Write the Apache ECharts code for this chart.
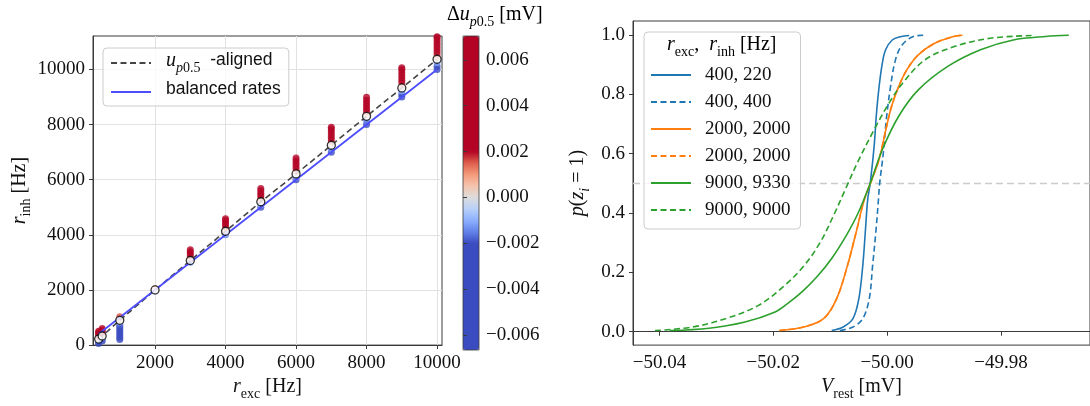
<!DOCTYPE html>
<html>
<head>
<meta charset="utf-8">
<script src="https://cdn.jsdelivr.net/npm/echarts@6/dist/echarts.min.js"></script>
<style>
  html, body { margin: 0; padding: 0; background: #fff; }
  #chart { width: 1090px; height: 406px; }
</style>
</head>
<body>
<div id="chart"></div>
<script>
// ---------- left panel: r_inh vs r_exc, coloured by shift of u_p0.5 ----------
const rExcCols = [400, 500, 1000, 2000, 3000, 4000, 5000, 6000, 7000, 8000, 9000, 10000];
const rInhCols = [
  [60, 120, 180, 220, 280, 340, 400, 460, 500],
  [150, 220, 280, 330, 400, 470, 540, 600],
  [200, 280, 360, 440, 520, 600, 680, 760, 840, 900, 960, 1030],
  [1950, 2000, 2050],
  [3000, 3070, 3150, 3230, 3310, 3390, 3460],
  [4000, 4060, 4130, 4200, 4280, 4360, 4440, 4520, 4580],
  [5000, 5100, 5200, 5270, 5350, 5430, 5510, 5600, 5680],
  [6000, 6100, 6210, 6300, 6400, 6500, 6600, 6700, 6790],
  [7000, 7120, 7250, 7340, 7440, 7540, 7640, 7740, 7840, 7900],
  [8000, 8150, 8300, 8390, 8480, 8580, 8680, 8780, 8880, 8990],
  [9000, 9110, 9220, 9330, 9420, 9510, 9600, 9700, 9800, 9900, 10000, 10060],
  [10000, 10120, 10250, 10370, 10460, 10550, 10650, 10750, 10850, 10950, 11050, 11150, 11190]
];
const duCols = [
  [-0.0055, -0.0035, -0.0015, 0, 0.0012, 0.0022, 0.0030, 0.0036, 0.0040],
  [-0.0040, -0.0022, -0.0010, 0, 0.0012, 0.0022, 0.0030, 0.0036],
  [-0.0066, -0.0060, -0.0053, -0.0046, -0.0040, -0.0033, -0.0026, -0.0018, -0.0008, 0, 0.0008, 0.0016],
  [-0.0006, 0, 0.0006],
  [-0.0009, 0, 0.0010, 0.0019, 0.0028, 0.0036, 0.0043],
  [-0.0015, -0.0007, 0, 0.0008, 0.0017, 0.0025, 0.0033, 0.0040, 0.0046],
  [-0.0020, -0.0010, 0, 0.0008, 0.0017, 0.0025, 0.0033, 0.0041, 0.0048],
  [-0.0024, -0.0012, 0, 0.0010, 0.0020, 0.0030, 0.0040, 0.0049, 0.0055],
  [-0.0027, -0.0013, 0, 0.0010, 0.0020, 0.0030, 0.0040, 0.0049, 0.0056, 0.0060],
  [-0.0030, -0.0015, 0, 0.0010, 0.0020, 0.0030, 0.0040, 0.0049, 0.0057, 0.0064],
  [-0.0034, -0.0022, -0.0011, 0, 0.0009, 0.0018, 0.0027, 0.0036, 0.0045, 0.0053, 0.0060, 0.0064],
  [-0.0038, -0.0025, -0.0012, 0, 0.0009, 0.0018, 0.0028, 0.0037, 0.0045, 0.0053, 0.0060, 0.0066, 0.0070]
];
const alignedRinh = [220, 330, 900, 2000, 3070, 4130, 5200, 6210, 7250, 8300, 9330, 10370];
const balancedRexc = [400, 10000];
const balancedRinh = [400, 10000];
const leftXTicks = [2000, 4000, 6000, 8000, 10000];
const leftYTicks = [0, 2000, 4000, 6000, 8000, 10000];
const cbarTicks = [-0.006, -0.004, -0.002, 0, 0.002, 0.004, 0.006];

// ---------- right panel: p(z_i = 1) vs V_rest ----------
const vBlueA = [-50.00974, -50.00772, -50.00600, -50.00497, -50.00428, -50.00383, -50.00341, -50.00297, -50.00228, -50.00186, -50.00141, -50.00083, -50.00026, -49.99910, -49.99767, -49.99612];
const pBlueA = [0.004, 0.016, 0.044, 0.111, 0.222, 0.336, 0.446, 0.500, 0.625, 0.738, 0.826, 0.906, 0.950, 0.983, 0.994, 0.998];
const vBlueB = [-50.00831, -50.00600, -50.00428, -50.00314, -50.00255, -50.00198, -50.00152, -50.00131, -50.00066, -50.00014, -49.99940, -49.99853, -49.99738, -49.99538, -49.99366];
const pBlueB = [0.004, 0.016, 0.044, 0.111, 0.222, 0.336, 0.446, 0.500, 0.603, 0.715, 0.826, 0.916, 0.966, 0.995, 0.999];
const vOrange = [-50.01893, -50.01462, -50.01117, -50.00888, -50.00698, -50.00543, -50.00400, -50.00293, -50.00141, -50.00026, -49.99922, -49.99797, -49.99652, -49.99452, -49.99164, -49.98831, -49.98676];
const pOrange = [0.004, 0.016, 0.044, 0.111, 0.222, 0.336, 0.446, 0.500, 0.581, 0.678, 0.759, 0.826, 0.883, 0.933, 0.972, 0.995, 0.999];
const vGreenA = [-50.03819, -50.03129, -50.02497, -50.01979, -50.01750, -50.01491, -50.01233, -50.00974, -50.00716, -50.00509, -50.00297, -50.00083, -49.99797, -49.99452, -49.98934, -49.98359, -49.97784, -49.97210, -49.96807];
const pGreenA = [0.004, 0.012, 0.033, 0.066, 0.095, 0.135, 0.185, 0.247, 0.325, 0.400, 0.500, 0.614, 0.726, 0.815, 0.894, 0.950, 0.983, 0.995, 0.999];
const vGreenB = [-50.04078, -50.03417, -50.02841, -50.02267, -50.01807, -50.01462, -50.01176, -50.00945, -50.00733, -50.00509, -50.00216, -49.99983, -49.99738, -49.99336, -49.98819, -49.98186, -49.97440];
const pGreenB = [0.004, 0.016, 0.044, 0.088, 0.155, 0.222, 0.301, 0.390, 0.480, 0.575, 0.685, 0.765, 0.835, 0.916, 0.961, 0.989, 0.998];
const curveLabels = ['400, 220', '400, 400', '2000, 2000', '2000, 2000', '9000, 9330', '9000, 9000'];
const rightXTicks = [-50.04, -50.02, -50.00, -49.98];
const rightYTicks = [0, 0.2, 0.4, 0.6, 0.8, 1.0];

// ---------- styling helpers ----------
const SERIF = "'Liberation Serif', 'DejaVu Serif', serif";
const SANS = "'Liberation Sans', 'DejaVu Sans', sans-serif";
const INK = '#111';
const SPINE = '#3a3a3a';
const GRIDLINE = '#e2e2e2';

function mathRich(fs) {
  const lh = Math.round(fs * 1.1);
  const sf = Math.round(fs * 0.7);
  const drop = Math.round(fs * 0.5);
  return {
    i: { fontFamily: SERIF, fontStyle: 'italic', fontSize: fs, lineHeight: lh, verticalAlign: 'top', color: INK },
    n: { fontFamily: SERIF, fontSize: fs, lineHeight: lh, verticalAlign: 'top', color: INK },
    s: { fontFamily: SERIF, fontSize: sf, lineHeight: sf, padding: [drop, 0, 0, 0], verticalAlign: 'top', color: INK },
    si: { fontFamily: SERIF, fontStyle: 'italic', fontSize: sf, lineHeight: sf, padding: [drop, 0, 0, 0], verticalAlign: 'top', color: INK },
    t: { fontFamily: SANS, fontSize: 17.5, lineHeight: lh + 2, verticalAlign: 'top', color: INK }
  };
}

const signed = (v, d) => (v < -1e-12 ? '\u2212' : '') + Math.abs(v).toFixed(d);

// coolwarm colour map, saturating beyond +-0.002 mV
const coolwarmStops = [[59, 76, 192], [98, 130, 234], [141, 176, 254], [184, 208, 249], [221, 221, 221],
  [245, 196, 173], [244, 154, 123], [222, 96, 77], [180, 4, 38]];
function coolwarm(t) {
  t = Math.min(1, Math.max(0, t));
  const f = t * (coolwarmStops.length - 1);
  const k = Math.min(coolwarmStops.length - 2, Math.floor(f));
  const u = f - k;
  const a = coolwarmStops[k], b = coolwarmStops[k + 1];
  const c = a.map((x, j) => Math.round(x + (b[j] - x) * u));
  return 'rgb(' + c.join(',') + ')';
}
const cbMin = -0.00665, cbMax = 0.00704, cbSat = 0.002;
const cbColors = [];
for (let i = 0; i <= 160; i++) {
  const v = cbMin + (cbMax - cbMin) * i / 160;
  cbColors.push(coolwarm((v + cbSat) / (2 * cbSat)));
}

// ---------- series data built from the arrays above ----------
const colourPoints = [];
rExcCols.forEach((x, c) => rInhCols[c].forEach((y, k) => colourPoints.push([x, y, duCols[c][k]])));
const alignedPoints = rExcCols.map((x, i) => [x, alignedRinh[i]]);
const balancedPoints = balancedRexc.map((x, i) => [x, balancedRinh[i]]);
const pair = (vs, ps) => vs.map((v, i) => [v, ps[i]]);

const curveNames = ['c400_220', 'c400_400', 'c2000_2000a', 'c2000_2000b', 'c9000_9330', 'c9000_9000'];
const curveSets = [[vBlueA, pBlueA], [vBlueB, pBlueB], [vOrange, pOrange], [vOrange, pOrange], [vGreenA, pGreenA], [vGreenB, pGreenB]];
const curveColors = ['#1f77b4', '#1f77b4', '#ff7f0e', '#ff7f0e', '#2ca02c', '#2ca02c'];
const curveDashed = [false, true, false, true, false, true];

const curveSeries = curveNames.map((name, i) => ({
  name: name,
  type: 'line',
  xAxisIndex: 1,
  yAxisIndex: 1,
  data: pair(curveSets[i][0], curveSets[i][1]),
  symbol: 'none',
  smooth: 0.35,
  color: curveColors[i],
  lineStyle: { width: 1.6, type: curveDashed[i] ? [6, 3.5] : 'solid' },
  z: 3 + i * 0.01
}));
curveSeries[0].markLine = {
  silent: true,
  symbol: ['none', 'none'],
  label: { show: false },
  lineStyle: { color: '#cbcbcb', type: [7, 4], width: 1.4 },
  data: [{ yAxis: 0.5 }],
  z: 1
};

const tickLabel = { fontFamily: SERIF, fontSize: 19, color: INK };
const noSymbolIcon = { opacity: 0, color: 'transparent', borderWidth: 0 };

const option = {
  animation: false,
  backgroundColor: '#fff',
  grid: [
    { left: 93, top: 36, width: 349, height: 314, show: true, borderColor: SPINE, borderWidth: 1, backgroundColor: 'transparent' },
    { left: 633, top: 21, right: -8, bottom: 60, show: true, borderColor: SPINE, borderWidth: 1, backgroundColor: 'transparent' },
    { left: 463, top: 36, width: 16, height: 314, show: true, borderColor: SPINE, borderWidth: 0.8, backgroundColor: 'transparent', z: 10 }
  ],
  xAxis: [
    {
      gridIndex: 0, type: 'value', min: 240, max: 10140,
      axisLine: { show: true, lineStyle: { color: SPINE } },
      axisTick: { show: true, customValues: leftXTicks, length: 4, lineStyle: { color: SPINE } },
      axisLabel: { customValues: leftXTicks, margin: 8, formatter: v => String(Math.round(v)), ...tickLabel },
      splitLine: { show: true, lineStyle: { color: GRIDLINE, width: 1 } },
      name: '{i|r}{s|exc}{n| [Hz]}', nameLocation: 'middle', nameGap: 31,
      nameTextStyle: { rich: mathRich(20) }
    },
    {
      gridIndex: 1, type: 'value', min: -50.04465, max: -49.96435,
      axisLine: { show: true, lineStyle: { color: SPINE } },
      axisTick: { show: true, customValues: rightXTicks, length: 4, lineStyle: { color: SPINE } },
      axisLabel: { customValues: rightXTicks, margin: 8, formatter: v => signed(v, 2), ...tickLabel },
      splitLine: { show: false },
      name: '{i|V}{s|rest}{n| [mV]}', nameLocation: 'middle', nameGap: 31,
      nameTextStyle: { rich: mathRich(20) }
    },
    { gridIndex: 2, type: 'value', min: 0, max: 1, show: false }
  ],
  yAxis: [
    {
      gridIndex: 0, type: 'value', min: 0, max: 11214,
      axisLine: { show: true, lineStyle: { color: SPINE } },
      axisTick: { show: true, customValues: leftYTicks, length: 4, lineStyle: { color: SPINE } },
      axisLabel: { customValues: leftYTicks, margin: 8, formatter: v => String(Math.round(v)), ...tickLabel },
      splitLine: { show: true, lineStyle: { color: GRIDLINE, width: 1 } },
      name: '{i|r}{s|inh}{n| [Hz]}', nameLocation: 'middle', nameGap: 61,
      nameTextStyle: { rich: mathRich(20) }
    },
    {
      gridIndex: 1, type: 'value', min: -0.045, max: 1.047,
      axisLine: { show: true, lineStyle: { color: SPINE } },
      axisTick: { show: true, customValues: rightYTicks, length: 4, lineStyle: { color: SPINE } },
      axisLabel: { customValues: rightYTicks, margin: 8, formatter: v => v.toFixed(1), ...tickLabel },
      splitLine: { show: false },
      name: '{i|p}{n|(}{i|z}{si|i}{n| = 1)}', nameLocation: 'middle', nameGap: 43,
      nameTextStyle: { rich: mathRich(20) }
    },
    {
      gridIndex: 2, type: 'value', position: 'right', min: cbMin, max: cbMax,
      axisLine: { show: false },
      axisTick: { show: true, customValues: cbarTicks, length: 4, lineStyle: { color: SPINE } },
      axisLabel: { customValues: cbarTicks, margin: 7, formatter: v => signed(v, 3), ...tickLabel },
      splitLine: { show: false },
      z: 10
    }
  ],
  visualMap: {
    type: 'continuous',
    seriesIndex: 0,
    dimension: 2,
    min: cbMin,
    max: cbMax,
    calculable: false,
    hoverLink: false,
    orient: 'vertical',
    left: 463,
    top: 36,
    itemWidth: 16,
    itemHeight: 314,
    padding: 0,
    inRange: { color: cbColors }
  },
  legend: [
    {
      data: ['u_p0.5 -aligned', 'balanced rates'],
      left: 103, top: 48, orient: 'vertical',
      itemWidth: 40, itemHeight: 14, itemGap: 5,
      padding: [3, 8, 8, 7],
      backgroundColor: 'rgba(255,255,255,0.8)',
      borderColor: '#cccccc', borderWidth: 1, borderRadius: 4,
      selectedMode: false,
      itemStyle: noSymbolIcon,
      formatter: name => name === 'balanced rates' ? '{t|balanced rates}' : '{i|u}{si|p}{s|0.5}{t|  -aligned}',
      textStyle: { rich: mathRich(20), padding: [0, 0, 0, 10] }
    },
    {
      data: curveNames,
      left: 644, top: 32, orient: 'vertical',
      itemWidth: 40, itemHeight: 14, itemGap: 7,
      padding: [33, 10, 9, 6],
      backgroundColor: 'rgba(255,255,255,0.8)',
      borderColor: '#cccccc', borderWidth: 1, borderRadius: 4,
      selectedMode: false,
      itemStyle: noSymbolIcon,
      formatter: name => curveLabels[curveNames.indexOf(name)],
      textStyle: { fontFamily: SERIF, fontSize: 19, lineHeight: 20, color: INK, padding: [0, 0, 0, 9] }
    }
  ],
  graphic: [
    {
      type: 'text', left: 447, top: 5, z: 100,
      style: { text: '{n|\u0394}{i|u}{si|p}{s|0.5}{n| [mV]}', rich: mathRich(20) }
    },
    {
      type: 'text', left: 667, top: 35, z: 100,
      style: { text: '{i|r}{s|exc}{n|,  }{i|r}{s|inh}{n| [Hz]}', rich: mathRich(20) }
    }
  ],
  series: [
    {
      name: 'shift',
      type: 'scatter',
      xAxisIndex: 0, yAxisIndex: 0,
      data: colourPoints,
      symbol: 'circle',
      symbolSize: 7,
      z: 2
    },
    {
      name: 'u_p0.5 -aligned',
      type: 'line',
      xAxisIndex: 0, yAxisIndex: 0,
      data: alignedPoints,
      symbol: 'none',
      color: '#444444',
      lineStyle: { width: 1.6, type: [6, 3.5] },
      z: 3
    },
    {
      name: 'balanced rates',
      type: 'line',
      xAxisIndex: 0, yAxisIndex: 0,
      data: balancedPoints,
      symbol: 'none',
      color: '#4d4dff',
      lineStyle: { width: 1.8 },
      z: 3
    },
    {
      name: 'aligned points',
      type: 'scatter',
      xAxisIndex: 0, yAxisIndex: 0,
      data: alignedPoints,
      symbol: 'circle',
      symbolSize: 8,
      itemStyle: { color: '#ffffff', borderColor: '#000000', borderWidth: 1.3 },
      z: 5
    },
    ...curveSeries
  ]
};

const chart = echarts.init(document.getElementById('chart'), null, { renderer: 'canvas' });
chart.setOption(option);
</script>
</body>
</html>
